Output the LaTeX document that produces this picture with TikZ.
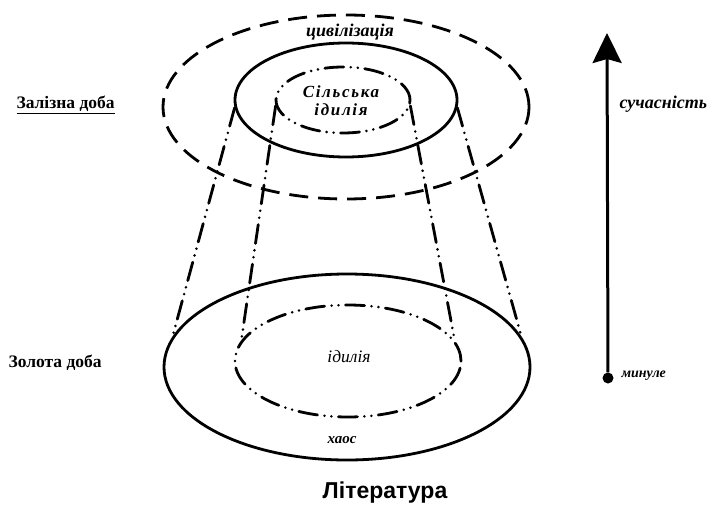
\documentclass[tikz,border=0pt]{standalone}
\usepackage{fontspec}
\setmainfont{Liberation Serif}
\newfontfamily\headfont{Liberation Sans}
\usetikzlibrary{shapes.geometric,arrows.meta}
\tikzset{
  ring/.style={ellipse, draw, line width=2.8pt, inner sep=0pt},
  longdash/.style={line width=2.8pt, dash pattern=on 19pt off 10pt},
  dashdots/.style={line width=2.8pt, line cap=round,
    dash pattern=on 19pt off 7pt on 0pt off 7pt on 0pt off 7pt},
  era/.style={font=\bfseries\fontsize{17.5}{20}\selectfont},
  word/.style={font=\bfseries\itshape\fontsize{18}{20}\selectfont},
}
\begin{document}
\begin{tikzpicture}[x=1pt,y=-1pt]
  \useasboundingbox (0,0) rectangle (708,508);

  \node[ring, longdash, minimum width=366, minimum height=184] (civ) at (346,107) {};
  \node[ring, minimum width=222, minimum height=114] (village) at (346,100) {};
  \node[ring, dashdots, minimum width=134, minimum height=66] (idyllup) at (343,100) {};
  \node[ring, minimum width=366, minimum height=186] (chaos) at (347,367) {};
  \node[ring, dashdots, minimum width=226, minimum height=112] (idylldown) at (348,361) {};

  \draw[dashdots] (village.184) -- (chaos.170);
  \draw[dashdots] (village.356) -- (chaos.10);
  \draw[dashdots] (idyllup.185) -- (idylldown.169);
  \draw[dashdots] (idyllup.355) -- (idylldown.11);

  \node[word] (civtext) at (350,32) {цивілізація};
  \node[align=center, font=\bfseries\itshape\fontsize{17}{18}\selectfont\addfontfeature{LetterSpace=10}]
    (villagetext) at (341,101) {Сільська\\ідилія};
  \node[font=\itshape\fontsize{17.5}{20}\selectfont] (idylltext) at (349,357) {ідилія};
  \node[font=\bfseries\itshape\fontsize{15}{17}\selectfont] (chaostext) at (342,440) {хаос};

  \node[era, anchor=west] (iron) at (13,105) {\underline{Залізна доба}};
  \node[era, anchor=west] (gold) at (5,363) {Золота доба};

  \node[circle, fill, inner sep=0pt, minimum size=11pt] (past) at (608,378) {};
  \coordinate (present) at (607,33);
  \draw[line width=3pt, -{Stealth[length=30pt, width=29pt, inset=4pt]}] (past) -- (present);
  \node[word, anchor=west] (nowtext) at (616,104) {сучасність};
  \node[anchor=west, font=\bfseries\itshape\fontsize{14}{16}\selectfont] (pasttext) at (618,376) {минуле};

  \node[font=\headfont\bfseries\fontsize{23}{26}\selectfont] (title) at (385,493) {Література};
\end{tikzpicture}
\end{document}
